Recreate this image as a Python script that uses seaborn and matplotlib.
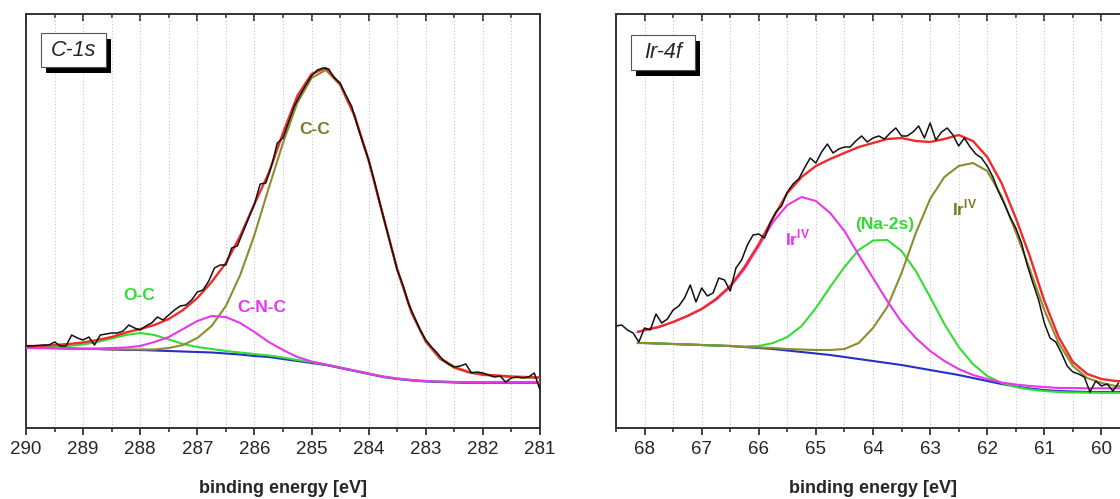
import numpy as np
import seaborn as sns
import matplotlib.pyplot as plt
from matplotlib.patches import Rectangle
from matplotlib.ticker import MultipleLocator

# XPS fits: C-1s and Ir-4f (intensity in arbitrary units)

# ---- C-1s ----
ev_c1s_fit = np.linspace(290, 281, 37)
bg_c1s = [80, 80, 80, 79.5, 79, 79, 78.5, 78, 78, 77.5, 77, 76.5, 76, 75.5, 74.5, 73.5, 72, 71, 69, 67,
          65, 63, 60, 57, 54, 51, 49, 47.5, 46.5, 46, 45.5, 45, 45, 45, 45, 45, 45]
oc_c1s = [80, 80.5, 81, 82, 83.5, 86, 89.5, 93, 95, 93, 88.5, 84, 81, 79, 77, 75.5, 74, 72.5, 70.5, 68,
          66, 63.5, 60.5, 57.5, 54.5, 51.5, 49.5, 48, 47, 46.5, 46, 45.5, 45.5, 45.5, 45.5, 45.5, 45.5]
cnc_c1s = [80, 80, 80, 79.5, 79.5, 79.5, 80, 80.5, 82, 86, 91, 99, 107, 112, 111, 105, 96, 86, 78, 71,
           66.5, 63.5, 60.5, 57.5, 54.5, 51.5, 49.5, 48, 47, 46.5, 46, 46, 46, 46, 46, 46, 46]
cc_c1s = [80, 80, 79.5, 79.5, 79, 79, 78.5, 78.5, 78.5, 78.5, 80, 83, 90, 102, 122, 153, 193, 240, 285, 325,
          350, 358, 343, 312, 267, 212, 158, 115, 86, 69, 60, 55.5, 53, 52, 51, 50.5, 50]
env_c1s = [82, 82, 83, 84, 85.5, 88, 91, 95.5, 99, 103, 109, 118, 130, 146, 165, 192, 224, 255, 295, 332,
           354, 360, 344, 313, 268, 213, 159, 116, 87, 70, 61, 56, 53.5, 52.5, 51.5, 51, 50.5]

ev_c1s_raw = np.linspace(290, 281, 91)
raw_c1s = [82, 82, 82.5, 83, 83, 86, 82, 82, 93, 90,
           88, 91, 83, 93, 94, 95, 95, 97, 103, 100,
           98, 102, 105, 111, 108, 113, 118, 122, 123, 128,
           136, 138, 147, 160, 163, 163, 180, 182, 196, 210,
           224, 244, 245, 262, 285, 290, 306, 322, 333, 343,
           352, 358, 360, 359, 350, 345, 333, 322, 303, 285,
           268, 247, 224, 202, 180, 158, 143, 124, 111, 98,
           88, 81, 75, 68, 64, 61, 62, 64, 55, 56,
           55, 53, 51, 52, 46, 50, 51, 50, 51, 55,
           38]

# ---- Ir-4f ----
ev_ir_fit = np.r_[68.12, np.linspace(68, 59.5, 35)]
bg_ir = [85, 85, 84.5, 84, 83.5, 83, 82.5, 82, 81, 80, 79, 77.5, 76, 74.5, 73, 71, 69, 67,
         65, 63, 60.5, 58, 55.5, 53, 50, 47, 44, 41.5, 39.5, 38, 37, 36.5, 36, 36, 36, 36]
na2s_ir = [85, 85, 84.5, 84, 83.5, 83, 82.5, 82, 81.5, 82, 85, 91, 102, 120, 141, 161, 178, 187.5,
           188, 177, 157, 131, 104, 81, 64, 52, 45, 41, 38.5, 37, 36, 35.5, 35.3, 35.2, 35.2, 35.2]
irA_ir = [96, 98, 101, 106, 112, 119, 128, 141, 159, 182, 206, 223, 231, 227, 215, 197, 173, 150,
          127, 106, 90, 77, 67, 59, 53, 49, 45.5, 43.5, 42, 41, 40, 40, 39.7, 39.7, 39.7, 39.7]
irB_ir = [85, 85, 84.5, 84, 83.5, 83, 82.5, 82, 81, 80.5, 80, 79, 78.5, 78, 78, 79, 85, 100,
          121, 155, 195, 229, 251, 262, 265, 257, 232, 196, 158, 118, 85, 62, 50, 45, 42, 41]
env_ir = [96, 98, 101, 106, 112, 119, 129, 142, 161, 184, 210, 235, 251, 262, 269, 275, 281, 285,
          289, 290, 287, 286, 289, 293, 287, 271, 245, 210, 171, 127, 91, 66, 54, 49, 47, 46]

ev_ir_raw = np.linspace(68.5, 59.7, 89)
raw_ir = [102, 103, 98, 95, 86, 100, 98, 114, 105, 109,
          118, 122, 130, 143, 126, 140, 132, 135, 150, 148,
          137, 160, 168, 183, 193, 194, 190, 205, 216, 222,
          236, 244, 249, 260, 270, 265, 276, 284, 275, 279,
          281, 281, 287, 292, 286, 290, 292, 289, 295, 300,
          292, 292, 296, 302, 290, 305, 288, 296, 300, 293,
          282, 290, 281, 274, 270, 262, 251, 236, 224, 211,
          200, 185, 163, 145, 128, 105, 90, 86, 75, 62,
          56, 54, 51, 36, 47, 42, 44, 37, 45]

RAW = '#111111'
RED = '#f22a2a'
OLIVE = '#8c8c30'
GREEN = '#34dc34'
MAGENTA = '#ea36ea'
BLUE = '#2430c8'

sns.set_style('white')
plt.rcParams['font.family'] = ['Liberation Sans', 'DejaVu Sans']
plt.rcParams['mathtext.fontset'] = 'custom'
plt.rcParams['mathtext.rm'] = 'Liberation Sans'
plt.rcParams['mathtext.bf'] = 'Liberation Sans:bold'

fig = plt.figure(figsize=(11.2, 4.99), dpi=100)
ax1 = fig.add_axes([26 / 1120, 71 / 499, 514 / 1120, 414 / 499])
ax2 = fig.add_axes([616 / 1120, 71 / 499, 514 / 1120, 414 / 499])


def draw(ax, x_fit, bg, comps, env, x_raw, raw):
    sns.lineplot(x=x_fit, y=bg, ax=ax, color=BLUE, linewidth=1.5, errorbar=None, zorder=2)
    for vals, c in comps:
        sns.lineplot(x=x_fit, y=vals, ax=ax, color=c, linewidth=1.5, errorbar=None, zorder=3)
    sns.lineplot(x=x_fit, y=env, ax=ax, color=RED, linewidth=1.7, errorbar=None, zorder=4)
    sns.lineplot(x=x_raw, y=raw, ax=ax, color=RAW, linewidth=1.1, errorbar=None, zorder=5)


def style(ax, xlim, title, box):
    ax.set_xlim(*xlim)
    ax.set_ylim(0, 414)
    ax.set_yticks([])
    ax.set_ylabel('')
    ax.xaxis.set_major_locator(MultipleLocator(1))
    ax.xaxis.set_minor_locator(MultipleLocator(0.5))
    ax.grid(True, which='both', axis='x', color='#c4c4c4', linestyle=(0, (1, 2)), linewidth=0.8)
    for s in ax.spines.values():
        s.set_color('#333333')
        s.set_linewidth(1.4)
    ax.tick_params(axis='x', which='major', direction='out', length=5, width=1.3,
                   color='#333333', labelsize=13.5, pad=4.5, bottom=True, top=False)
    ax.tick_params(axis='x', which='minor', direction='out', length=3, width=1.2,
                   color='#333333', bottom=True, top=False)
    top = ax.secondary_xaxis('top')
    top.xaxis.set_major_locator(MultipleLocator(1))
    top.xaxis.set_minor_locator(MultipleLocator(0.5))
    top.tick_params(axis='x', which='major', direction='in', length=5, width=1.3,
                    color='#333333', labeltop=False)
    top.tick_params(axis='x', which='minor', direction='in', length=3, width=1.2,
                    color='#333333', labeltop=False)
    top.spines['top'].set_visible(False)
    ax.set_xlabel('binding energy [eV]', fontsize=13, fontweight='bold', labelpad=16)
    # boxed panel title with a drop shadow
    bx, by, bw, bh = box
    ax.add_patch(Rectangle((bx + 0.0097, by - 0.0145), bw, bh, transform=ax.transAxes,
                           facecolor='black', edgecolor='none', zorder=6))
    ax.add_patch(Rectangle((bx, by), bw, bh, transform=ax.transAxes,
                           facecolor='white', edgecolor='#555555', linewidth=0.8, zorder=7))
    ax.text(bx + bw / 2, by + bh / 2, title, transform=ax.transAxes, ha='center', va='center',
            fontsize=15.5, style='italic', zorder=8)


draw(ax1, ev_c1s_fit, bg_c1s, [(oc_c1s, GREEN), (cc_c1s, OLIVE), (cnc_c1s, MAGENTA)],
     env_c1s, ev_c1s_raw, raw_c1s)
style(ax1, (290, 281), 'C-1s', (0.029, 0.872, 0.127, 0.082))
ax1.text(284.94, 298, 'C-C', color='#7a7a26', fontsize=12.5, fontweight='bold', ha='center', va='center')
ax1.text(288.02, 133, 'O-C', color=GREEN, fontsize=12.5, fontweight='bold', ha='center', va='center')
ax1.text(285.88, 120, 'C-N-C', color=MAGENTA, fontsize=12.5, fontweight='bold', ha='center', va='center')

draw(ax2, ev_ir_fit, bg_ir, [(na2s_ir, GREEN), (irB_ir, OLIVE), (irA_ir, MAGENTA)],
     env_ir, ev_ir_raw, raw_ir)
style(ax2, (68.5, 59.5), 'Ir-4f', (0.029, 0.865, 0.125, 0.085))
ax2.text(65.32, 190, r'Ir$^{\mathbf{IV}}$', color=MAGENTA, fontsize=12.5, fontweight='bold', ha='center', va='center')
ax2.text(63.79, 204, '(Na-2s)', color=GREEN, fontsize=12.5, fontweight='bold', ha='center', va='center')
ax2.text(62.39, 220, r'Ir$^{\mathbf{IV}}$', color='#7a7a26', fontsize=12.5, fontweight='bold', ha='center', va='center')

fig.savefig('out.png', dpi=100)
